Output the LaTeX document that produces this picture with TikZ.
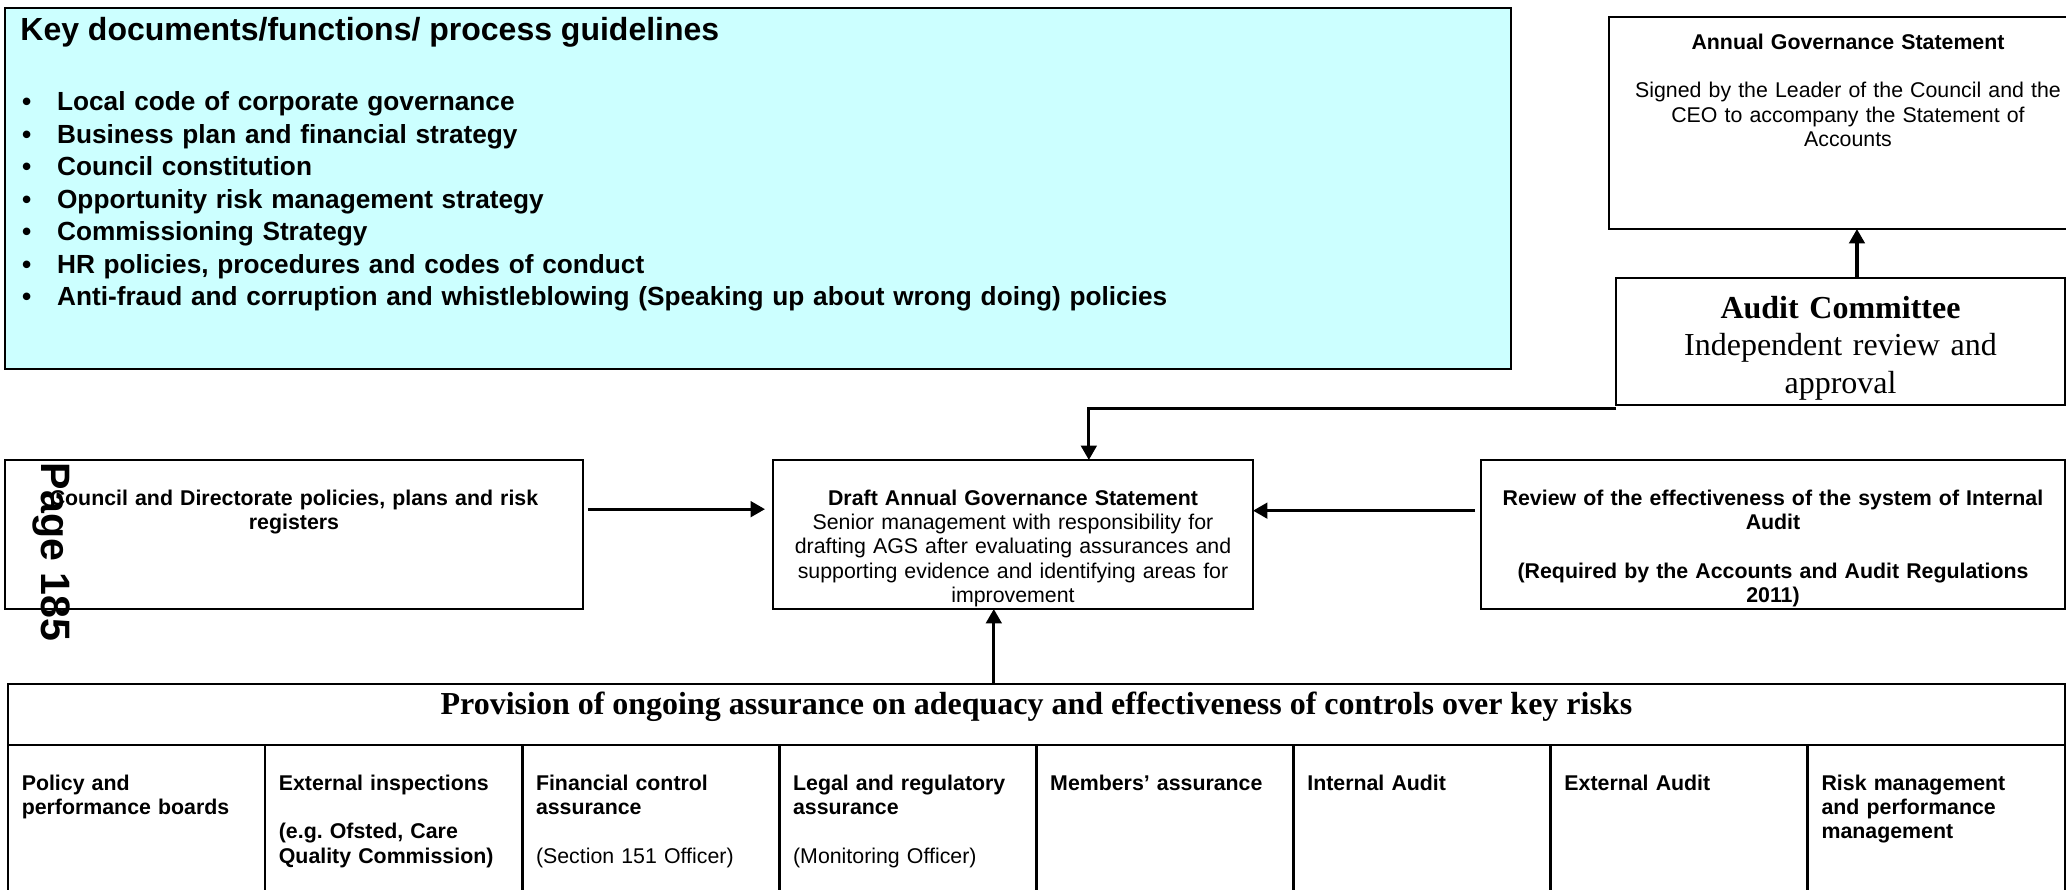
\documentclass[tikz,border=0pt]{standalone}
\usepackage{fontspec}
\setmainfont{Liberation Sans}
\newfontfamily\timesfont{Liberation Serif}
\usetikzlibrary{positioning, arrows.meta, calc}
\definecolor{keycyan}{RGB}{204,255,255}

\begin{document}
\begin{tikzpicture}[x=0.45pt, y=-0.45pt,
  panel/.style={draw, line width=1.2pt, inner sep=0pt, outer sep=0pt},
  body/.style={font=\fontsize{9.6}{11}\selectfont, align=center, inner sep=0pt, anchor=base},
  bold/.style={body, font=\fontsize{9.6}{11}\selectfont\bfseries},
  serif/.style={font=\timesfont\fontsize{14.4}{16.9}\selectfont, align=center, inner sep=0pt},
  cell/.style={panel, inner xsep=6.2pt, text width=103.3pt, align=left, text height=20.25pt, text depth=94.5pt, font=\fontsize{9.6}{11}\selectfont\bfseries},
  flow/.style={line width=1.4pt, -{Triangle[length=6.5pt, width=7pt]}}]
\useasboundingbox (0,0) rectangle (2066,890);
\clip (0,0) rectangle (2066,890);
% key documents
\node[panel, fill=keycyan, minimum width=677.7pt, minimum height=162.45pt] (keydocs) at (758,188.5) {};
\node[anchor=base west, inner sep=0pt, font=\fontsize{14.4}{17}\selectfont\bfseries] (keydocs-head) at ($(keydocs.north west)+(15,33)$) {Key documents/functions/ process guidelines};
\node[anchor=base west, inner sep=0pt, text width=650pt, align=left, font=\fontsize{11.8}{14.6}\selectfont\bfseries] (keydocs-list) at ($(keydocs.north west)+(15,103)$) {%
\makebox[16.5pt][l]{\hspace{0.8pt}\textbullet}Local code of corporate governance\\
\makebox[16.5pt][l]{\hspace{0.8pt}\textbullet}Business plan and financial strategy\\
\makebox[16.5pt][l]{\hspace{0.8pt}\textbullet}Council constitution\\
\makebox[16.5pt][l]{\hspace{0.8pt}\textbullet}Opportunity risk management strategy\\
\makebox[16.5pt][l]{\hspace{0.8pt}\textbullet}Commissioning Strategy\\
\makebox[16.5pt][l]{\hspace{0.8pt}\textbullet}HR policies, procedures and codes of conduct\\
\makebox[16.5pt][l]{\hspace{0.8pt}\textbullet}Anti-fraud and corruption and whistleblowing (Speaking up about wrong doing) policies};
% statement and committee
\node[panel, minimum width=215.1pt, minimum height=95.4pt] (ags) at (1848,123) {};
\node[body, text width=205pt] (ags-t) at ($(ags.north)+(0,33)$) {\textbf{Annual Governance Statement}\\[10.6pt]Signed by the Leader of the Council and the\\CEO to accompany the Statement of\\Accounts};
\node[panel, line width=0.9pt, minimum width=202pt, minimum height=57.15pt] (audit) at (1840.5,341.5) {};
\node[serif, anchor=base, text width=195pt] (audit-t) at ($(audit.north)+(0,40)$) {\textbf{Audit Committee}\\Independent review and\\approval};
% middle row
\node[panel, minimum width=260.1pt, minimum height=67.05pt] (council) at (294,534.5) {};
\node[bold, text width=250pt] (council-t) at ($(council.north)+(0,45)$) {Council and Directorate policies, plans and risk\\registers};
\node[panel, minimum width=216pt, minimum height=67.05pt] (draft) at (1013,534.5) {};
\node[body, text width=210pt] (draft-t) at ($(draft.north)+(0,45)$) {\textbf{Draft Annual Governance Statement}\\Senior management with responsibility for\\drafting AGS after evaluating assurances and\\supporting evidence and identifying areas for\\improvement};
\node[panel, minimum width=262.8pt, minimum height=67.05pt] (review) at (1773,534.5) {};
\node[bold, text width=255pt] (review-t) at ($(review.north)+(0,45)$) {Review of the effectiveness of the system of Internal\\Audit\\[11pt](Required by the Accounts and Audit Regulations\\2011)};
\node[rotate=-90, inner sep=0pt, font=\fontsize{18.5}{20}\selectfont\bfseries] (pagemark) at (51,552) {Page 185};
% assurance table
\node[panel, anchor=north west, minimum width=925.6pt, minimum height=27.45pt, text height=10pt, text depth=10.4pt, font=\timesfont\fontsize{14.4}{17}\selectfont\bfseries] (provhead) at (8,684) {Provision of ongoing assurance on adequacy and effectiveness of controls over key risks};
\node[cell, anchor=north west] (policy) at (provhead.south west) {Policy and\\performance boards};
\node[cell, right=0pt of policy] (inspect) {External inspections\\[11pt](e.g.\ Ofsted, Care\\Quality Commission)};
\node[cell, right=0pt of inspect] (finance) {Financial control\\assurance\\[11pt]{\mdseries (Section 151 Officer)}};
\node[cell, right=0pt of finance] (legal) {Legal and regulatory\\assurance\\[11pt]{\mdseries (Monitoring Officer)}};
\node[cell, right=0pt of legal] (members) {Members’ assurance};
\node[cell, right=0pt of members] (intaudit) {Internal Audit};
\node[cell, right=0pt of intaudit] (extaudit) {External Audit};
\node[cell, right=0pt of extaudit] (riskmgmt) {Risk management\\and performance\\management};
% connectors
\coordinate (draftin) at ($(draft.north west)!0.658!(draft.north east)$);
\coordinate (draftup) at ($(draft.south west)!0.46!(draft.south east)$);
\coordinate (agsin) at ([xshift=7.4pt]audit.north);
\draw[flow] (agsin) -- (agsin |- ags.south);
\draw[flow] ([yshift=-1.4pt]audit.south west) -| (draftin);
\draw[flow, shorten <=2.2pt, shorten >=3.6pt] ($(council.north east)!0.33!(council.south east)$) -- ($(draft.north west)!0.33!(draft.south west)$);
\draw[flow, shorten <=2.7pt] ($(review.north west)!0.34!(review.south west)$) -- ($(draft.north east)!0.34!(draft.south east)$);
\draw[flow] (provhead.north -| draftup) -- (draftup);
\end{tikzpicture}
\end{document}
